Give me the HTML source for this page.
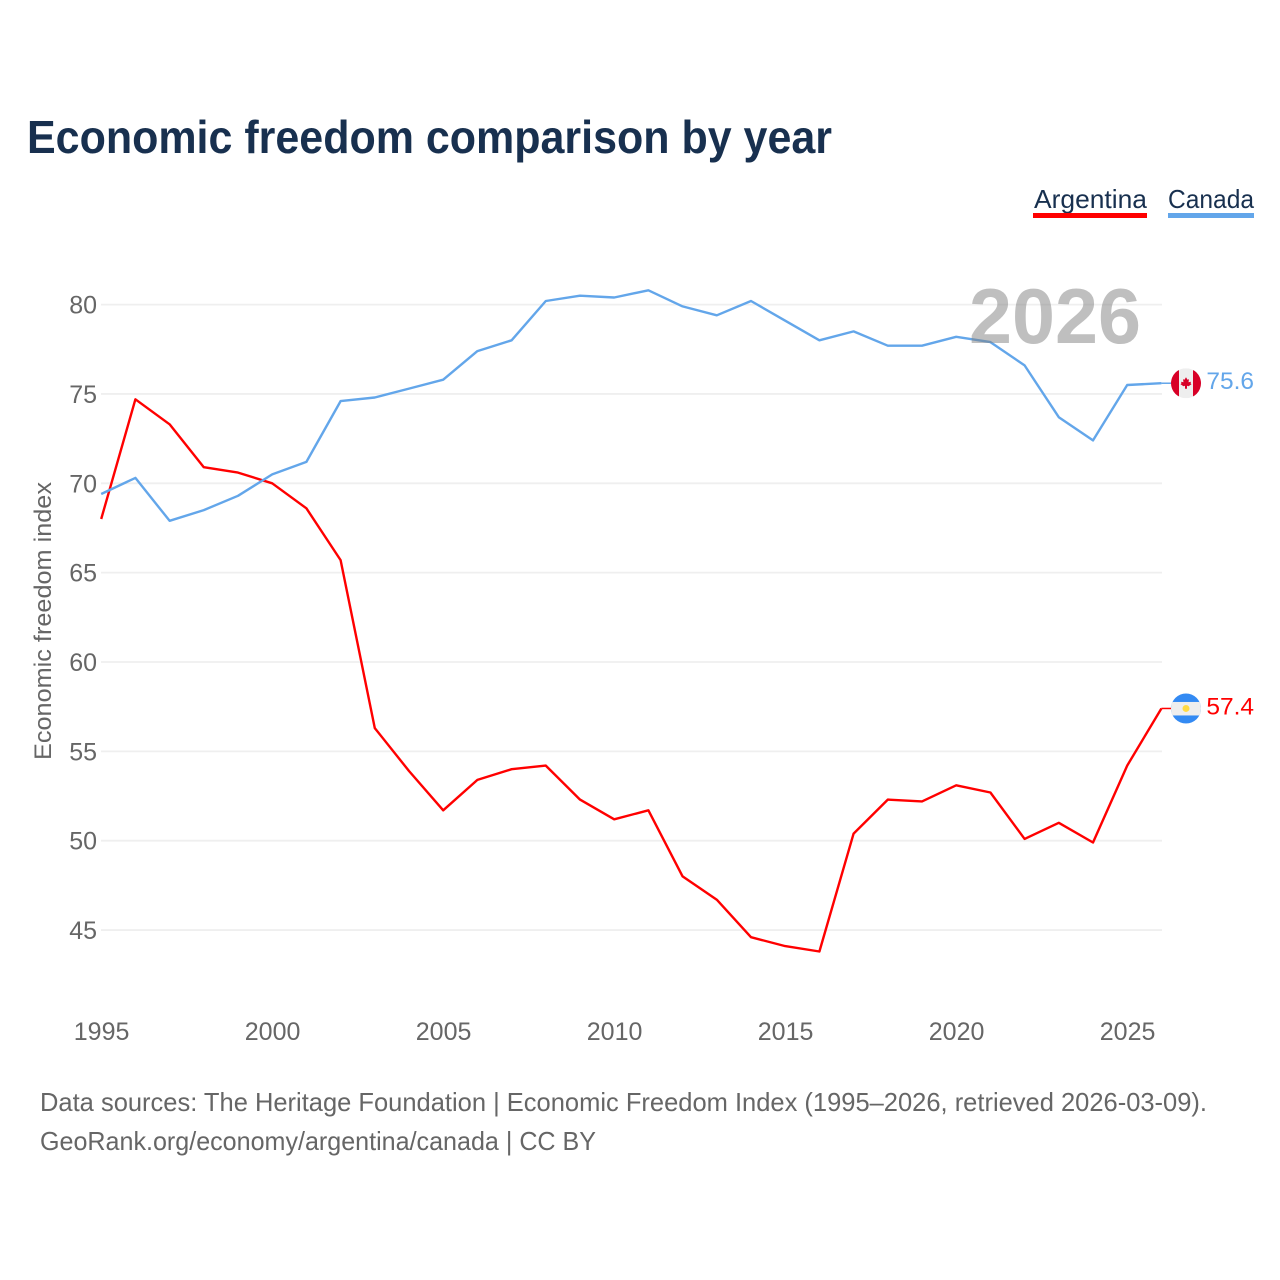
<!DOCTYPE html>
<html lang="en">
<head>
<meta charset="utf-8">
<title>Economic freedom comparison by year</title>
<style>
html,body{margin:0;padding:0;background:#fff}
svg{display:block;font-family:"Liberation Sans",sans-serif}
</style>
</head>
<body>
<svg id="chart" xmlns="http://www.w3.org/2000/svg" width="1280" height="1280" viewBox="0 0 1280 1280">
  <rect width="1280" height="1280" fill="#fff"/>
  <text x="27" y="153" font-size="46" font-weight="700" fill="#18304f" textLength="805" lengthAdjust="spacingAndGlyphs">Economic freedom comparison by year</text>
  <g>
    <g>
      <text x="1034" y="208" font-size="26" fill="#18304f" textLength="113" lengthAdjust="spacingAndGlyphs">Argentina</text>
      <rect x="1033" y="213" width="114" height="5" fill="#ff0000"/>
    </g>
    <g>
      <text x="1168" y="208" font-size="26" fill="#18304f" textLength="86" lengthAdjust="spacingAndGlyphs">Canada</text>
      <rect x="1168" y="213" width="86" height="5" fill="#63a6ea"/>
    </g>
  </g>
  <g id="grid"></g>
  <g id="yticks"></g>
  <g id="xticks"></g>
  <text transform="translate(51 621) rotate(-90)" text-anchor="middle" font-size="24" fill="#666" textLength="278" lengthAdjust="spacingAndGlyphs">Economic freedom index</text>
  <g id="series"></g>
  <text id="year-label" x="969" y="343" font-size="78" font-weight="700" fill="#7f7f7f" fill-opacity="0.5" textLength="172" lengthAdjust="spacingAndGlyphs">2026</text>
  <defs>
    <clipPath id="flag-clip-canada"><circle id="clip-c" cx="1186" cy="383" r="15"/></clipPath>
    <clipPath id="flag-clip-argentina"><circle id="clip-a" cx="1186" cy="708" r="15"/></clipPath>
  </defs>
  <g id="flag-canada">
    <g clip-path="url(#flag-clip-canada)">
      <rect id="fc-bg" x="1171" y="368" width="30" height="30" fill="#eeeeee"/>
      <rect id="fc-l" x="1171" y="368" width="8" height="30" fill="#d80027"/>
      <rect id="fc-r" x="1193" y="368" width="8" height="30" fill="#d80027"/>
      <polygon id="fc-leaf" points="0,-6 1.5,-3.5 3,-4 2.5,-1 5,-1.5 4.5,0 5.5,1 2.5,3 1,2.5 1,5.5 -1,5.5 -1,2.5 -2.5,3 -5.5,1 -4.5,0 -5,-1.5 -2.5,-1 -3,-4 -1.5,-3.5" fill="#d80027" transform="translate(1186 383)"/>
    </g>
  </g>
  <g id="flag-argentina">
    <g clip-path="url(#flag-clip-argentina)">
      <rect id="fa-bg" x="1171" y="693" width="30" height="30" fill="#338af3"/>
      <rect id="fa-w" x="1171" y="701.5" width="30" height="13.5" fill="#eeeeee"/>
      <circle id="fa-sun" cx="1186" cy="708" r="3.5" fill="#ffda44"/>
    </g>
  </g>
  <g font-size="26" fill="#666">
    <text x="40" y="1111" textLength="1167" lengthAdjust="spacingAndGlyphs">Data sources: The Heritage Foundation | Economic Freedom Index (1995–2026, retrieved 2026-03-09).</text>
    <text x="40" y="1150" textLength="556" lengthAdjust="spacingAndGlyphs">GeoRank.org/economy/argentina/canada | CC BY</text>
  </g>
</svg>
<script>
var years = [1995,1996,1997,1998,1999,2000,2001,2002,2003,2004,2005,2006,2007,2008,2009,2010,2011,2012,2013,2014,2015,2016,2017,2018,2019,2020,2021,2022,2023,2024,2025,2026];
var argentinaValues = [68.0,74.7,73.3,70.9,70.6,70.0,68.6,65.7,56.3,53.9,51.7,53.4,54.0,54.2,52.3,51.2,51.7,48.0,46.7,44.6,44.1,43.8,50.4,52.3,52.2,53.1,52.7,50.1,51.0,49.9,54.2,57.4];
var canadaValues = [69.4,70.3,67.9,68.5,69.3,70.5,71.2,74.6,74.8,75.3,75.8,77.4,78.0,80.2,80.5,80.4,80.8,79.9,79.4,80.2,79.1,78.0,78.5,77.7,77.7,78.2,77.9,76.6,73.7,72.4,75.5,75.6];
var yTickValues = [45,50,55,60,65,70,75,80];
var xTickValues = [1995,2000,2005,2010,2015,2020,2025];

var NS = 'http://www.w3.org/2000/svg';
var root = document.getElementById('chart');
function xScale(year){ return 101.2 + (year - 1995) * 34.2; }
function yScale(v){ return 840.7 - (v - 50) * 17.87; }
function make(tag, attrs, parent){
  var el = document.createElementNS(NS, tag);
  for (var k in attrs) el.setAttribute(k, attrs[k]);
  parent.appendChild(el);
  return el;
}

var gridG = document.getElementById('grid');
var yG = document.getElementById('yticks');
yTickValues.forEach(function(v){
  var line = make('line', {x1:101, x2:1162, y1:yScale(v), y2:yScale(v), stroke:'#efefef', 'stroke-width':1.8}, gridG);
  
  
  var label = make('text', {x:97, y:yScale(v) + 9, 'text-anchor':'end', 'font-size':25, fill:'#666'}, yG);
  
  
  label.textContent = v;
});

var xG = document.getElementById('xticks');
xTickValues.forEach(function(y){
  var label = make('text', {x:xScale(y) + 0.4, y:1040, 'text-anchor':'middle', 'font-size':25, fill:'#666'}, xG);
  
  
  label.textContent = y;
});

function drawSeries(name, values, color){
  var g = document.getElementById('series');
  var pts = values.map(function(v, i){ return xScale(years[i]).toFixed(1) + ',' + yScale(v).toFixed(1); });
  var line = make('polyline', {points:pts.join(' '), fill:'none', stroke:color, 'stroke-width':2.4, 'stroke-linejoin':'round'}, g);
  
  
  var last = values[values.length - 1];
  var lastX = xScale(years[years.length - 1]);
  var connector = make('line', {x1:lastX, x2:1171, y1:yScale(last), y2:yScale(last), stroke:color, 'stroke-width':1.5}, g);
  
  
  var label = make('text', {x:1254, y:yScale(last) + 6, 'text-anchor':'end', 'font-size':24.5, fill:color}, root);
  
  
  label.textContent = last.toFixed(1);
}
drawSeries('argentina', argentinaValues, '#ff0000');
drawSeries('canada', canadaValues, '#63a6ea');

function placeFlag(id, value){
  var dy = yScale(value) - (id === 'flag-canada' ? 383 : 708);
  document.getElementById(id).setAttribute('transform', 'translate(0 ' + dy.toFixed(2) + ')');
}
placeFlag('flag-canada', canadaValues[canadaValues.length - 1]);
placeFlag('flag-argentina', argentinaValues[argentinaValues.length - 1]);
</script>
</body>
</html>
